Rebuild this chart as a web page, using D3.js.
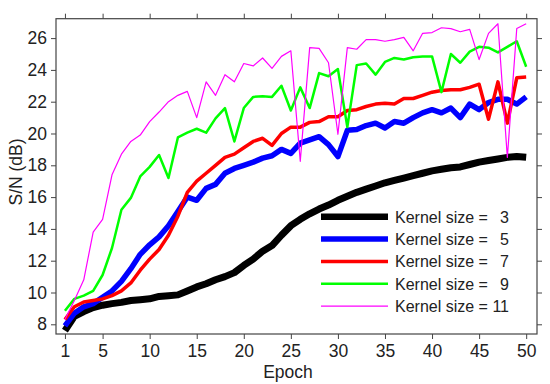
<!DOCTYPE html>
<html>
<head>
<meta charset="utf-8">
<script src="https://cdn.jsdelivr.net/npm/d3@7"></script>
<style>
  body { margin: 0; background: #fff; }
  svg text { font-family: "Liberation Sans", Arial, sans-serif; fill: #222; }
</style>
</head>
<body>
<div id="chart"></div>
<script>
// S/N (dB) per epoch for each kernel size
const epochs = d3.range(1, 51);
const kernelSizes = [3, 5, 7, 9, 11];
const k3 = [7.6, 8.5, 8.8, 9.05, 9.2, 9.3, 9.38, 9.5, 9.55, 9.6,
  9.75, 9.8, 9.85, 10.1, 10.35, 10.55, 10.8, 11.0, 11.25, 11.7,
  12.1, 12.6, 12.95, 13.6, 14.2, 14.6, 14.95, 15.25, 15.5, 15.8,
  16.05, 16.3, 16.5, 16.7, 16.9, 17.05, 17.2, 17.35, 17.5, 17.65,
  17.75, 17.85, 17.9, 18.05, 18.2, 18.3, 18.4, 18.5, 18.55, 18.5];
const k5 = [7.9, 8.7, 9.1, 9.3, 9.7, 10.1, 10.7, 11.5, 12.4, 13.0,
  13.5, 14.2, 15.1, 16.0, 15.8, 16.55, 16.8, 17.5, 17.8, 18.0,
  18.2, 18.45, 18.6, 19.0, 18.75, 19.4, 19.6, 19.8, 19.3, 18.55,
  20.2, 20.25, 20.5, 20.65, 20.35, 20.75, 20.65, 21.0, 21.3, 21.5,
  21.3, 21.6, 21.0, 21.85, 21.5, 21.95, 22.15, 22.15, 21.85, 22.3];
const k7 = [8.3, 9.1, 9.4, 9.5, 9.6, 9.8, 10.1, 10.6, 11.4, 12.1,
  12.7, 13.6, 14.8, 16.3, 17.0, 17.5, 18.0, 18.5, 18.7, 19.1,
  19.5, 19.7, 19.25, 20.0, 20.4, 20.4, 20.7, 20.75, 21.05, 21.05,
  21.45, 21.5, 21.7, 21.85, 21.9, 21.85, 22.2, 22.2, 22.4, 22.6,
  22.7, 22.75, 22.75, 22.9, 23.1, 20.9, 23.25, 20.65, 23.5, 23.55];
const k9 = [8.85, 9.6, 9.8, 10.1, 11.1, 12.8, 15.2, 15.95, 17.3, 17.9,
  18.65, 17.2, 19.75, 20.05, 20.3, 20.05, 20.95, 21.6, 19.5, 21.6,
  22.3, 22.35, 22.3, 23.0, 21.45, 22.9, 21.6, 23.8, 23.6, 24.05,
  20.4, 24.3, 24.4, 23.7, 24.5, 24.75, 24.65, 24.8, 24.85, 24.85,
  22.6, 25.0, 24.45, 25.15, 25.45, 25.4, 25.1, 25.45, 25.8, 24.2];
const k11 = [8.3, 9.5, 10.8, 13.8, 14.6, 17.4, 18.7, 19.5, 19.9, 20.75,
  21.35, 22.0, 22.4, 22.65, 21.0, 23.25, 22.4, 23.7, 23.25, 24.4,
  24.25, 24.75, 24.1, 24.85, 25.2, 18.25, 25.4, 25.35, 24.45, 19.95,
  25.4, 25.3, 25.9, 25.9, 25.8, 25.9, 26.05, 25.2, 26.3, 26.35,
  26.65, 26.6, 26.4, 26.55, 24.65, 26.3, 26.9, 18.5, 26.6, 26.9];
const xTicks = [1, 5, 10, 15, 20, 25, 30, 35, 40, 45, 50];
const yTicks = [8, 10, 12, 14, 16, 18, 20, 22, 24, 26];

const series = [k3, k5, k7, k9, k11];
const colors = ["#000000", "#0000ff", "#ff0000", "#00ff00", "#ff00ff"];
const widths = [7, 5.5, 3.5, 2.5, 1.2];

const width = 550, height = 384;
const plot = { left: 56, right: 537, top: 18.7, bottom: 334 };

const svg = d3.select("#chart").append("svg")
  .attr("width", width)
  .attr("height", height);

const x = d3.scaleLinear().domain([0.05, 51.15]).range([plot.left, plot.right]);
const y = d3.scaleLinear().domain([7.39, 27.22]).range([plot.bottom, plot.top]);

// lines, drawn in order so kernel 11 ends up on top
const line = d3.line()
  .x((d, i) => x(epochs[i]))
  .y(d => y(d));

svg.append("g").selectAll("path")
  .data(series)
  .enter()
  .append("path")
    .attr("d", d => line(d))
    .attr("fill", "none")
    .attr("stroke", (d, i) => colors[i])
    .attr("stroke-width", (d, i) => widths[i])
    .attr("stroke-linejoin", "round");

// frame + axes (ticks outward on all four sides)
const fontSize = "17.5px";
const styleAxis = g => {
  g.select(".domain").remove();
  g.selectAll(".tick line").attr("stroke", "#444");
  g.selectAll(".tick text").style("font-size", fontSize).attr("fill", "#222");
};

svg.append("g")
  .attr("transform", "translate(0," + plot.bottom + ")")
  .call(d3.axisBottom(x).tickValues(xTicks).tickSize(5).tickPadding(6))
  .call(styleAxis);
svg.append("g")
  .attr("transform", "translate(0," + plot.top + ")")
  .call(d3.axisTop(x).tickValues(xTicks).tickSize(5).tickFormat(""))
  .call(styleAxis);
svg.append("g")
  .attr("transform", "translate(" + plot.left + ",0)")
  .call(d3.axisLeft(y).tickValues(yTicks).tickSize(5).tickPadding(4))
  .call(styleAxis);
svg.append("g")
  .attr("transform", "translate(" + plot.right + ",0)")
  .call(d3.axisRight(y).tickValues(yTicks).tickSize(5).tickFormat(""))
  .call(styleAxis);

svg.append("rect")
  .attr("x", plot.left)
  .attr("y", plot.top)
  .attr("width", plot.right - plot.left)
  .attr("height", plot.bottom - plot.top)
  .attr("fill", "none")
  .attr("stroke", "#444")
  .attr("stroke-width", 1.2);

// axis titles
svg.append("text")
  .attr("x", 288)
  .attr("y", 378)
  .attr("text-anchor", "middle")
  .style("font-size", fontSize)
  .text("Epoch");
svg.append("text")
  .attr("transform", "translate(22,172) rotate(-90)")
  .attr("text-anchor", "middle")
  .style("font-size", fontSize)
  .text("S/N (dB)");

// legend
const legend = svg.append("g").selectAll("g")
  .data(kernelSizes)
  .enter()
  .append("g")
    .attr("transform", (d, i) => "translate(0," + (216.7 + i * 22.35) + ")");
legend.append("line")
  .attr("x1", 321)
  .attr("x2", 388)
  .attr("stroke", (d, i) => colors[i])
  .attr("stroke-width", (d, i) => Math.min(widths[i], 6.5));
legend.append("text")
  .attr("x", 395)
  .attr("y", 6)
  .style("font-size", "16px")
  .text("Kernel size =");
legend.append("text")
  .attr("x", 509)
  .attr("y", 6)
  .attr("text-anchor", "end")
  .style("font-size", "16px")
  .text(d => d);
</script>
</body>
</html>
